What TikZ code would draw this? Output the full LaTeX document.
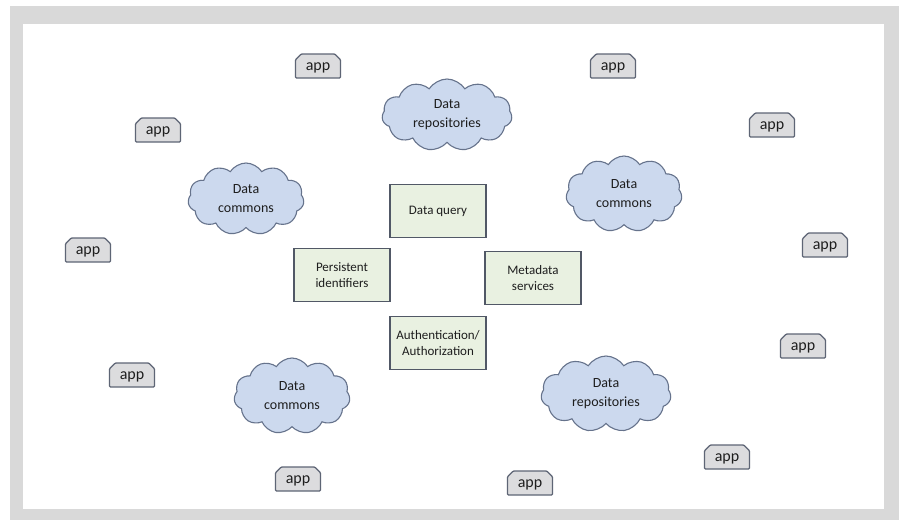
\documentclass[tikz,border=0pt]{standalone}
\usepackage{fontspec}
\setmainfont{Carlito}
\usepackage{tikz}
\usetikzlibrary{shapes}
\definecolor{framegrey}{HTML}{D9D9D9}
\definecolor{cloudfill}{HTML}{CCD9EE}
\definecolor{cloudline}{HTML}{66738C}
\definecolor{boxfill}{HTML}{E9F1E1}
\definecolor{boxline}{HTML}{515866}
\definecolor{appfill}{HTML}{DCDCDE}
\definecolor{appline}{HTML}{5E6575}
\definecolor{inktext}{HTML}{1E1E1E}
\tikzstyle{cloudbox} = [cloud, draw=cloudline, fill=cloudfill, line width=1.1pt, cloud puffs=11, cloud puff arc=115, cloud ignores aspect, minimum width=116pt, minimum height=72pt, inner sep=0pt, align=center, text=inktext, font=\fontsize{14}{19}\selectfont]
\tikzstyle{wcloud} = [cloudbox, minimum width=130pt]
\tikzstyle{servicebox} = [rectangle, draw=boxline, fill=boxfill, line width=1.1pt, minimum width=96pt, minimum height=53pt, align=center, text=inktext, font=\fontsize{13}{15.5}\selectfont]
\tikzstyle{appbox} = [chamfered rectangle, chamfered rectangle corners={north west, north east}, chamfered rectangle xsep=2.5pt, rounded corners=1pt, draw=appline, fill=appfill, line width=1.3pt, minimum width=45pt, minimum height=24pt, inner sep=0pt, text height=1.9ex, text depth=0pt, text=inktext, font=\fontsize{16}{18}\selectfont]

\begin{document}
\begin{tikzpicture}[x=1pt, y=-1pt]
    \fill[white] (0,0) rectangle (899,520);
    \fill[framegrey] (10,6) rectangle (899,520);
    \fill[white] (23,24) rectangle (884,509);

    \node[wcloud](repotop) at (447,115) {Data\\repositories};
    \node[cloudbox](commonsleft) at (246,199) {Data\\commons};
    \node[cloudbox, minimum height=76pt](commonsright) at (624,194) {Data\\commons};
    \node[cloudbox, minimum height=76pt](commonsbottom) at (292,396) {Data\\commons};
    \node[wcloud, minimum height=76pt](repobottom) at (606,394) {Data\\repositories};

    \node[servicebox](query) at (438,211) {Data query};
    \node[servicebox](pid) at (342,275) {Persistent\\identifiers};
    \node[servicebox](meta) at (533,278) {Metadata\\services};
    \node[servicebox](auth) at (438,343) {Authentication/\\Authorization};

    \node[appbox](app1) at (318,66) {app};
    \node[appbox](app2) at (613,66) {app};
    \node[appbox](app3) at (158,130) {app};
    \node[appbox](app4) at (772,125) {app};
    \node[appbox](app5) at (88,250) {app};
    \node[appbox](app6) at (825,245) {app};
    \node[appbox](app7) at (803,346) {app};
    \node[appbox](app8) at (132,375) {app};
    \node[appbox](app9) at (727,457) {app};
    \node[appbox](app10) at (298,479) {app};
    \node[appbox](app11) at (530,483) {app};
\end{tikzpicture}
\end{document}
